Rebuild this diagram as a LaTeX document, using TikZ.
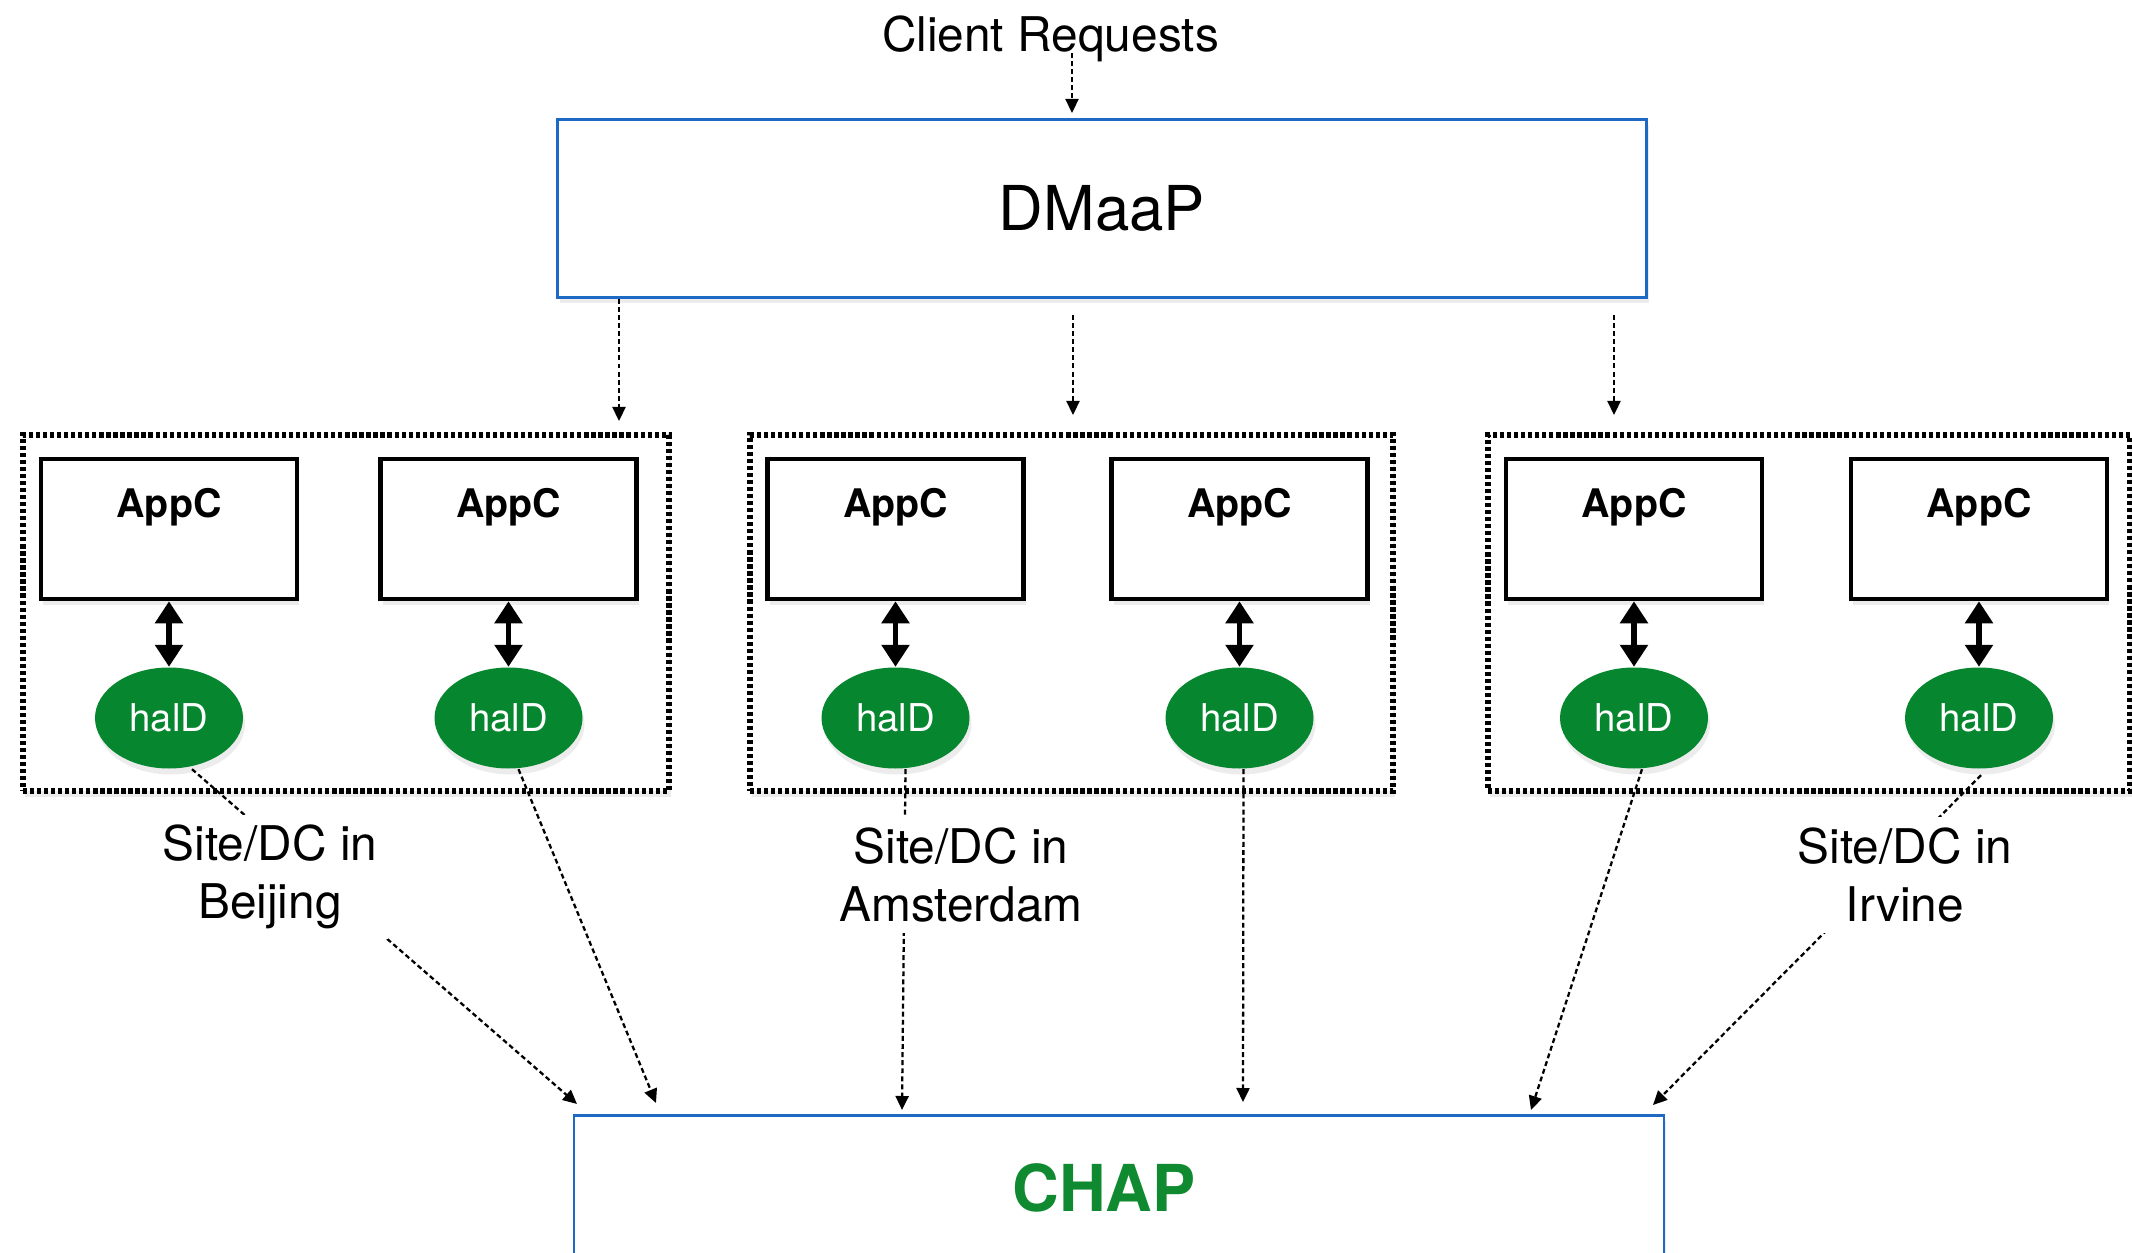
\documentclass[tikz,border=0pt]{standalone}
\usepackage{fontspec}
\setmainfont{TeX Gyre Heros}
\usetikzlibrary{shapes.geometric,arrows.meta,shadows}

\definecolor{dmaapblue}{RGB}{30,105,195}
\definecolor{haldgreen}{RGB}{6,134,46}
\definecolor{chapgreen}{RGB}{16,138,48}

\tikzset{
  softshadow/.style={drop shadow={opacity=0.15, shadow xshift=0.02cm, shadow yshift=-0.06cm}},
  site/.style={draw, line width=1.6pt, dash pattern=on 1.2pt off 0.8pt, fill=white, minimum height=3.56cm, inner sep=0pt, softshadow},
  appc/.style={draw, line width=1.3pt, fill=white, minimum width=2.56cm, inner xsep=0pt, inner ysep=0pt, text height=0.59cm, text depth=0.81cm, font=\fontsize{11.2}{13}\selectfont\bfseries, softshadow},
  hald/.style={ellipse, fill=haldgreen, text=white, minimum width=1.48cm, minimum height=1.01cm, inner sep=0pt, font=\fontsize{10.9}{13}\selectfont, softshadow},
  bigbox/.style={draw=dmaapblue, line width=0.8pt, fill=white, softshadow},
  flow/.style={line width=0.65pt, dash pattern=on 1.4pt off 0.9pt, -{Triangle[length=1.4mm,width=1.3mm]}},
  link/.style={line width=1.6pt, {Triangle[length=2.2mm,width=2.7mm]}-{Triangle[length=2.2mm,width=2.7mm]}},
  sitelabel/.style={fill=white, align=center, inner sep=3pt, font=\fontsize{13.6}{16.4}\selectfont}
}

\begin{document}
\begin{tikzpicture}
\useasboundingbox (0,0) rectangle (21.32,-12.53);

%sites
\node [site, minimum width=6.46cm] (bj) at (3.46,-6.13) {};
\node [site, minimum width=6.43cm] (am) at (10.715,-6.13) {};
\node [site, minimum width=6.42cm] (ir) at (18.09,-6.13) {};

%Beijing
\node [appc] (aB1) at (1.69,-5.29) {AppC};
\node [appc] (aB2) at (5.085,-5.29) {AppC};
\node [hald] (hB1) at (1.69,-7.18) {halD};
\node [hald] (hB2) at (5.085,-7.18) {halD};
\draw [link] (aB1) -- (hB1);
\draw [link] (aB2) -- (hB2);

%Amsterdam
\node [appc] (aA1) at (8.955,-5.29) {AppC};
\node [appc] (aA2) at (12.395,-5.29) {AppC};
\node [hald] (hA1) at (8.955,-7.18) {halD};
\node [hald] (hA2) at (12.395,-7.18) {halD};
\draw [link] (aA1) -- (hA1);
\draw [link] (aA2) -- (hA2);

%Irvine
\node [appc] (aI1) at (16.34,-5.29) {AppC};
\node [appc] (aI2) at (19.79,-5.29) {AppC};
\node [hald] (hI1) at (16.34,-7.18) {halD};
\node [hald] (hI2) at (19.79,-7.18) {halD};
\draw [link] (aI1) -- (hI1);
\draw [link] (aI2) -- (hI2);

%top and bottom boxes
\node [bigbox, minimum width=10.89cm, minimum height=1.78cm, font=\fontsize{17.6}{20}\selectfont] (dmaap) at (11.02,-2.085) {\raisebox{-0.03cm}{DMaaP}};
\node [bigbox, anchor=north, minimum width=10.90cm, inner ysep=0pt, text height=0.96cm, text depth=2cm, text=chapgreen, font=\fontsize{18.4}{21}\selectfont\bfseries] (chap) at (11.19,-11.14) {\hspace*{-0.3cm}CHAP};
\node [font=\fontsize{13.6}{16}\selectfont, anchor=base] (client) at (10.505,-0.517) {Client Requests};

%requests
\coordinate (f0) at (10.72,-0.53);
\coordinate (t0) at (10.72,-1.13);
\draw [flow] (f0) -- (t0);
\coordinate (t1) at (6.19,-4.21);
\draw [flow] (dmaap.south -| t1) -- (t1);
\coordinate (f2) at (10.73,-3.15);
\coordinate (t2) at (10.73,-4.15);
\draw [flow] (f2) -- (t2);
\coordinate (f3) at (16.14,-3.15);
\coordinate (t3) at (16.14,-4.15);
\draw [flow] (f3) -- (t3);

%to CHAP
\coordinate (e1) at (5.77,-11.04);
\coordinate (e2) at (6.56,-11.03);
\coordinate (e3) at (9.02,-11.10);
\coordinate (e4) at (12.43,-11.02);
\coordinate (e5) at (15.31,-11.10);
\coordinate (e6) at (16.53,-11.05);
\draw [flow] ([xshift=0.23cm]hB1.south) -- (e1);
\draw [flow] ([xshift=0.10cm]hB2.south) -- (e2);
\draw [flow] ([xshift=0.10cm]hA1.south) -- (e3);
\draw [flow] ([xshift=0.04cm]hA2.south) -- (e4);
\draw [flow] ([xshift=0.08cm]hI1.south) -- (e5);
\draw [flow] ([xshift=0.02cm,yshift=-0.06cm]hI2.south) -- (e6);

%site names
\node [sitelabel] (lB) at (2.70,-8.77) {Site/DC in\\Beijing};
\node [sitelabel] (lA) at (9.61,-8.75) {Site/DC in\\Amsterdam};
\node [sitelabel] (lI) at (19.05,-8.75) {Site/DC in\\Irvine};
\end{tikzpicture}
\end{document}
